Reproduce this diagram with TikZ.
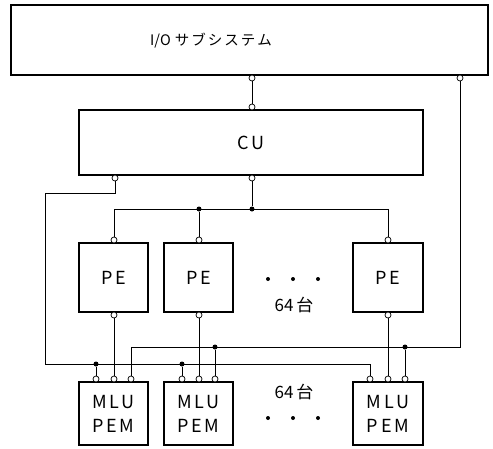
\documentclass[tikz,border=0pt]{standalone}
\usepackage{fontspec}
\setmainfont{Noto Sans CJK JP}
\newcommand{\ks}{\hspace{2pt}}
\begin{document}
\begin{tikzpicture}[x=1pt,y=-1pt,
  box/.style={draw,line width=1.3pt,inner sep=0pt},
  port/.style={draw,fill=white,circle,inner sep=0pt,minimum size=6pt,line width=0.7pt},
  jdot/.style={fill=black,circle,inner sep=0pt,minimum size=5pt},
  wire/.style={line width=0.7pt},
  lbl/.style={font=\fontsize{18}{18}\selectfont\addfontfeature{LetterSpace=15}}]
\useasboundingbox (0,0) rectangle (493,448);
% boxes
\node[box,minimum width=477pt,minimum height=70pt] (io) at (249.5,40) {};
\node[font=\fontsize{14.5}{14.5}\selectfont] (iot) at (211,41) {I/O\hspace{4pt}サ\ks ブ\ks シ\ks ス\ks テ\ks ム};
\node[box,minimum width=344pt,minimum height=65pt,lbl] (cu) at (251,142.5) {CU};
\node[box,minimum width=69pt,minimum height=69pt,lbl] (pe1) at (113.5,277.5) {PE};
\node[box,minimum width=69pt,minimum height=69pt,lbl] (pe2) at (198.5,277.5) {PE};
\node[box,minimum width=70pt,minimum height=69pt,lbl] (pe3) at (388,277.5) {PE};
\node[box,minimum width=69pt,minimum height=63pt,lbl,align=center] (m1) at (113.5,413.5) {MLU\\[6pt]PEM};
\node[box,minimum width=69pt,minimum height=63pt,lbl,align=center] (m2) at (198.5,413.5) {MLU\\[6pt]PEM};
\node[box,minimum width=70pt,minimum height=63pt,lbl,align=center] (m3) at (388,413.5) {MLU\\[6pt]PEM};
% texts
\node[font=\fontsize{17}{17}\selectfont] (n1) at (294,305) {64\,台};
\node[font=\fontsize{17}{17}\selectfont] (n2) at (294,392) {64\,台};
\foreach \x [count=\i] in {268,293,318}{
  \node[jdot,minimum size=4pt] (da\i) at (\x,279) {};
  \node[jdot,minimum size=4pt] (db\i) at (\x,418) {};
}
% ports
\node[port] (io1) at (252,78) {};
\node[port] (io2) at (460,78) {};
\node[port] (cu0) at (252,107) {};
\node[port] (cu1) at (115,178) {};
\node[port] (cu2) at (252,178) {};
\foreach \x [count=\i] in {114,199,388}{
  \node[port] (pt\i) at (\x,240) {};
  \node[port] (pb\i) at (\x,315) {};
}
\node[port] (m1a) at (96,379) {};
\node[port] (m1b) at (114,379) {};
\node[port] (m1c) at (131,379) {};
\node[port] (m2a) at (182,379) {};
\node[port] (m2b) at (199,379) {};
\node[port] (m2c) at (215,379) {};
\node[port] (m3a) at (370,379) {};
\node[port] (m3b) at (388,379) {};
\node[port] (m3c) at (405,379) {};
% junctions
\node[jdot] (j1) at (199,209) {};
\node[jdot] (j2) at (252,209) {};
\node[jdot] (k1) at (96,364) {};
\node[jdot] (k2) at (182,364) {};
\node[jdot] (r1) at (215,347) {};
\node[jdot] (r2) at (405,347) {};
\coordinate (c1) at (45,193);
\coordinate (c2) at (45,364);
\coordinate (c3) at (370,364);
\coordinate (b1) at (114,209);
\coordinate (b2) at (388,209);
\coordinate (e1) at (460,347);
\coordinate (e2) at (131,347);
% wires
\draw[wire] (io1) -- (cu0);
\draw[wire] (cu2) -- (j2);
\draw[wire] (b1) -- (b2);
\draw[wire] (b1) -- (pt1);
\draw[wire] (j1) -- (pt2);
\draw[wire] (b2) -- (pt3);
\draw[wire] (cu1) |- (c1) -- (c2) -- (c3) -- (m3a);
\draw[wire] (k1) -- (m1a);
\draw[wire] (k2) -- (m2a);
\draw[wire] (io2) -- (e1) -- (e2) -- (m1c);
\draw[wire] (r1) -- (m2c);
\draw[wire] (r2) -- (m3c);
\draw[wire] (pb1) -- (m1b);
\draw[wire] (pb2) -- (m2b);
\draw[wire] (pb3) -- (m3b);
\end{tikzpicture}
\end{document}
